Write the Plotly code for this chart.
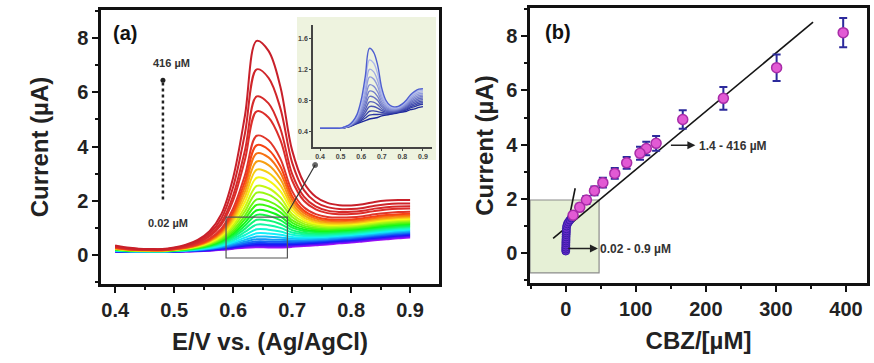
import colorsys
import plotly.graph_objects as go

# ---------------- data: panel (a) DPV curves ----------------
E = [0.40, 0.42, 0.44, 0.46, 0.48, 0.50, 0.52, 0.54, 0.56, 0.58, 0.60, 0.62, 0.64,
     0.66, 0.68, 0.70, 0.72, 0.74, 0.76, 0.78, 0.80, 0.82, 0.84, 0.86, 0.88, 0.90]
# lowest (0.02 uM) curve
base_curve = [0.12, 0.11, 0.11, 0.11, 0.11, 0.12, 0.13, 0.14, 0.16, 0.19, 0.23, 0.27, 0.29,
              0.28, 0.28, 0.30, 0.33, 0.36, 0.39, 0.43, 0.46, 0.50, 0.54, 0.58, 0.62, 0.65]
# normalised oxidation peak shape
peak_shape = [0, 0, 0, 0, 0, 0.003, 0.009, 0.018, 0.043, 0.107, 0.28, 0.60, 1.0,
              0.93, 0.72, 0.35, 0.16, 0.076, 0.036, 0.017, 0.011, 0.009, 0.012, 0.010, 0.005, 0]
# normalised background / second-wave shape
tail_shape = [0.17, 0.12, 0.09, 0.08, 0.08, 0.10, 0.14, 0.22, 0.32, 0.45, 0.58, 0.70, 0.80,
              0.87, 0.91, 0.93, 0.94, 0.94, 0.94, 0.94, 0.94, 0.95, 0.97, 0.99, 1.00, 1.00]
# read peak current (at 0.64 V) and end current (at 0.90 V) of each curve, high -> low
peaks_a = [7.9, 6.85, 5.85, 5.3, 4.4, 4.05, 3.75, 3.45, 3.15, 2.85, 2.55, 2.3, 2.05, 1.85,
           1.65, 1.48, 1.3, 1.12, 0.95, 0.8, 0.68, 0.58, 0.5, 0.44, 0.39, 0.35, 0.32, 0.29]
ends_a = [2.03, 1.9, 1.8, 1.72, 1.6, 1.52, 1.47, 1.42, 1.38, 1.34, 1.3, 1.26, 1.22, 1.18,
          1.14, 1.1, 1.06, 1.02, 0.98, 0.94, 0.9, 0.86, 0.82, 0.78, 0.75, 0.71, 0.68, 0.65]

# inset (low concentrations)
inset_base = [0.44, 0.44, 0.44, 0.44, 0.44, 0.44, 0.45, 0.46, 0.48, 0.50, 0.52, 0.54, 0.56,
              0.57, 0.58, 0.60, 0.61, 0.62, 0.63, 0.64, 0.65, 0.66, 0.68, 0.69, 0.71, 0.72]
inset_tail = [0, 0, 0, 0, 0, 0, 0.01, 0.03, 0.07, 0.14, 0.24, 0.33, 0.38,
              0.38, 0.35, 0.30, 0.26, 0.24, 0.25, 0.30, 0.42, 0.60, 0.80, 0.95, 1.0, 1.0]
inset_peaks = [1.47, 1.32, 1.2, 1.1, 1.0, 0.92, 0.85, 0.78, 0.72, 0.66, 0.61, 0.56]
inset_ends = [0.95, 0.93, 0.91, 0.89, 0.87, 0.85, 0.83, 0.81, 0.79, 0.77, 0.75, 0.72]
inset_ticks_x = [0.4, 0.5, 0.6, 0.7, 0.8, 0.9]
inset_ticks_y = [0.4, 0.8, 1.2, 1.6]

# ---------------- data: panel (b) calibration ----------------
conc_hi = [396, 301, 225, 167, 129, 115, 106, 87, 70, 53, 41, 29.5, 20, 10.5]
cur_hi = [8.13, 6.84, 5.71, 4.93, 4.05, 3.86, 3.68, 3.33, 2.94, 2.6, 2.3, 1.96, 1.69, 1.4]
err_hi = [0.54, 0.49, 0.42, 0.34, 0.27, 0.25, 0.24, 0.22, 0.2, 0.18, 0.16, 0.15, 0.13, 0.12]
conc_lo = [0.02, 0.05, 0.1, 0.15, 0.2, 0.3, 0.4, 0.5, 0.6, 0.7, 0.8, 0.9, 1.4, 2.4, 4, 6, 8]
cur_lo = [0.08, 0.15, 0.22, 0.3, 0.38, 0.45, 0.52, 0.6, 0.68, 0.75, 0.82, 0.9, 1.0, 1.08,
          1.15, 1.22, 1.3]
err_lo = [0.05, 0.05, 0.05, 0.05, 0.06, 0.06, 0.06, 0.06, 0.07, 0.07, 0.07, 0.07, 0.08, 0.08,
          0.08, 0.09, 0.09]
fit_hi = dict(slope=0.0215, intercept=0.93, x=[-18, 353])
fit_lo = dict(slope=0.127, intercept=0.68, x=[-3, 13.5])

xt_a = [0.4, 0.5, 0.6, 0.7, 0.8, 0.9]
yt = [0, 2, 4, 6, 8]
xt_b = [0, 100, 200, 300, 400]

# ---------------- figure ----------------
fig = go.Figure()
FONT = "Liberation Sans, Arial, sans-serif"


def curve_color(i, n):
    if i < 5:
        return ["#c8202a", "#d0252a", "#d62a2a", "#dc2e2a", "#e0362a"][i]
    f = (i - 5) / (n - 6)
    h = 0.035 + f * 0.74
    r, g, b = colorsys.hsv_to_rgb(h, 0.92, 0.97)
    return "rgb(%d,%d,%d)" % (r * 255, g * 255, b * 255)


n = len(peaks_a)
i64 = E.index(0.64)
for i in reversed(range(n)):
    t = ends_a[i] - base_curve[-1]
    p = max(0.0, peaks_a[i] - base_curve[i64] - t * tail_shape[i64])
    y = [b + p * pp + t * tt for b, pp, tt in zip(base_curve, peak_shape, tail_shape)]
    fig.add_trace(go.Scatter(x=E, y=y, mode="lines", line=dict(color=curve_color(i, n), width=2, shape="spline"),
                             xaxis="x", yaxis="y", hoverinfo="skip"))

# inset curves
m = len(inset_peaks)
for j in reversed(range(m)):
    t = inset_ends[j] - inset_base[-1]
    p = max(0.0, inset_peaks[j] - inset_base[i64] - t * inset_tail[i64])
    y = [b + p * pp + t * tt for b, pp, tt in zip(inset_base, peak_shape, inset_tail)]
    f = j / (m - 1)
    if j == 0:
        col = "#4f5fd0"
    else:
        r = int(190 - 160 * f); g = int(200 - 160 * f); bl = int(245 - 90 * f)
        col = "rgb(%d,%d,%d)" % (r, g, bl)
    fig.add_trace(go.Scatter(x=E, y=y, mode="lines", line=dict(color=col, width=1.4, shape="spline"),
                             xaxis="x3", yaxis="y3", hoverinfo="skip"))

# panel (b) fits
for fit in (fit_hi, fit_lo):
    fy = [fit["intercept"] + fit["slope"] * xv for xv in fit["x"]]
    fig.add_trace(go.Scatter(x=fit["x"], y=fy, mode="lines", line=dict(color="#151515", width=1.6),
                             xaxis="x2", yaxis="y2", hoverinfo="skip"))

fig.add_trace(go.Scatter(x=conc_lo, y=cur_lo, mode="markers",
                         error_y=dict(type="data", array=err_lo, color="#2c1f9a", thickness=2, width=3),
                         marker=dict(size=8, color="#6a2ccc", line=dict(color="#3a1ca8", width=1)),
                         xaxis="x2", yaxis="y2", hoverinfo="skip"))
fig.add_trace(go.Scatter(x=conc_hi, y=cur_hi, mode="markers",
                         error_y=dict(type="data", array=err_hi, color="#2c2a9c", thickness=2, width=4),
                         marker=dict(size=10, color="#e25ad4", line=dict(color="#a82ca8", width=1.5)),
                         xaxis="x2", yaxis="y2", hoverinfo="skip"))

# dotted concentration arrow in (a)
fig.add_trace(go.Scatter(x=[0.481, 0.481], y=[2.05, 6.4], mode="lines",
                         line=dict(color="#222", width=2.5, dash="dot"), xaxis="x", yaxis="y", hoverinfo="skip"))
fig.add_trace(go.Scatter(x=[0.481], y=[6.45], mode="markers", marker=dict(size=5, color="#222"),
                         xaxis="x", yaxis="y", hoverinfo="skip"))
# connector from zoom box to inset
fig.add_trace(go.Scatter(x=[0.692, 0.739], y=[1.54, 3.32], mode="lines+markers",
                         line=dict(color="#333", width=1.2), marker=dict(size=[0, 5], color="#222"),
                         xaxis="x", yaxis="y", hoverinfo="skip"))

shapes = [
    # inset background
    dict(type="rect", xref="paper", yref="paper", x0=297 / 874, x1=436 / 874, y0=1 - 160 / 363, y1=1 - 17 / 363,
         fillcolor="#eef3df", line=dict(width=0), layer="below"),
    # zoom box in (a)
    dict(type="rect", xref="x", yref="y", x0=0.588, x1=0.692, y0=-0.11, y1=1.4,
         line=dict(color="#555", width=1.2), fillcolor="rgba(0,0,0,0)", layer="above"),
    # green box in (b)
    dict(type="rect", xref="x2", yref="y2", x0=-51, x1=47.6, y0=-0.73, y1=1.96,
         fillcolor="#e6f0d6", line=dict(color="#8c8c8c", width=1.2), layer="below"),
]

annotations = [
    dict(text="(a)", x=0.393, y=8.2, xref="x", yref="y", xanchor="left", showarrow=False,
         font=dict(size=20, family=FONT, weight="bold", color="#111")),
    dict(text="(b)", x=-33, y=8.15, xref="x2", yref="y2", xanchor="left", showarrow=False,
         font=dict(size=20, family=FONT, weight="bold", color="#111")),
    dict(text="416 µM", x=0.496, y=7.07, xref="x", yref="y", showarrow=False,
         font=dict(size=11, family=FONT, weight="bold", color="#333")),
    dict(text="0.02 µM", x=0.489, y=1.19, xref="x", yref="y", showarrow=False,
         font=dict(size=11, family=FONT, weight="bold", color="#333")),
    dict(text="1.4 - 416 µM", x=187, y=3.96, xref="x2", yref="y2", xanchor="left", showarrow=False,
         font=dict(size=12, family=FONT, weight="bold", color="#333")),
    dict(text="0.02 - 0.9 µM", x=46, y=0.17, xref="x2", yref="y2", xanchor="left", showarrow=False,
         font=dict(size=12, family=FONT, weight="bold", color="#333")),
    dict(text="", x=185, y=3.98, ax=148, ay=3.98, xref="x2", yref="y2", axref="x2", ayref="y2",
         showarrow=True, arrowhead=2, arrowsize=1, arrowwidth=1.6, arrowcolor="#222"),
    dict(text="", x=46, y=0.17, ax=1.5, ay=0.17, xref="x2", yref="y2", axref="x2", ayref="y2",
         showarrow=True, arrowhead=2, arrowsize=1, arrowwidth=1.6, arrowcolor="#222"),
]

ax_common = dict(showline=True, linecolor="#111", linewidth=2.5, mirror=True, ticks="outside",
                 ticklen=6, tickwidth=2, tickcolor="#111", showgrid=False, zeroline=False,
                 tickfont=dict(size=20, family=FONT, weight="bold", color="#222"))
title_font = dict(size=24, family=FONT, weight="bold", color="#222")

fig.update_layout(
    width=874, height=363, margin=dict(l=0, r=0, t=0, b=0),
    plot_bgcolor="rgba(0,0,0,0)", paper_bgcolor="white", showlegend=False,
    font=dict(family=FONT),
    xaxis=dict(domain=[101 / 874, 439 / 874], range=[0.376, 0.949], tickvals=xt_a, tickformat=".1f",
               anchor="y", title=dict(text="E/V vs. (Ag/AgCl)", font=title_font, standoff=14),
               minor=dict(ticks="outside", ticklen=3, tickwidth=1.5, dtick=0.05, tickcolor="#111"), **ax_common),
    yaxis=dict(domain=[1 - 284 / 363, 1 - 10 / 363], range=[-1.07, 9.04], tickvals=yt, anchor="x",
               title=dict(text="Current (µA)", font=title_font, standoff=22),
               minor=dict(ticks="outside", ticklen=3, tickwidth=1.5, dtick=1, tickcolor="#111"), **ax_common),
    xaxis2=dict(domain=[530 / 874, 867 / 874], range=[-51, 430], tickvals=xt_b, anchor="y2",
                title=dict(text="CBZ/[µM]", font=title_font, standoff=14),
                minor=dict(ticks="outside", ticklen=3, tickwidth=1.5, dtick=50, tickcolor="#111"), **ax_common),
    yaxis2=dict(domain=[1 - 283 / 363, 1 - 8 / 363], range=[-1.1, 9.04], tickvals=yt, anchor="x2",
                title=dict(text="Current (µA)", font=title_font, standoff=6),
                minor=dict(ticks="outside", ticklen=3, tickwidth=1.5, dtick=1, tickcolor="#111"), **ax_common),
    xaxis3=dict(domain=[313 / 874, 432 / 874], range=[0.366, 0.944], tickvals=inset_ticks_x, tickformat=".1f",
                anchor="y3", showline=True, linecolor="#444", linewidth=1.5, mirror=False, ticks="outside",
                ticklen=2, tickwidth=1, showgrid=False, zeroline=False,
                tickfont=dict(size=7, family=FONT, weight="bold", color="#444")),
    yaxis3=dict(domain=[1 - 147 / 363, 1 - 25 / 363], range=[0.2, 1.77], tickvals=inset_ticks_y, tickformat=".1f",
                anchor="x3", showline=True, linecolor="#444", linewidth=1.5, mirror=False, ticks="outside",
                ticklen=2, tickwidth=1, showgrid=False, zeroline=False,
                tickfont=dict(size=7, family=FONT, weight="bold", color="#444")),
    shapes=shapes, annotations=annotations,
)

fig.write_html("out.html")
